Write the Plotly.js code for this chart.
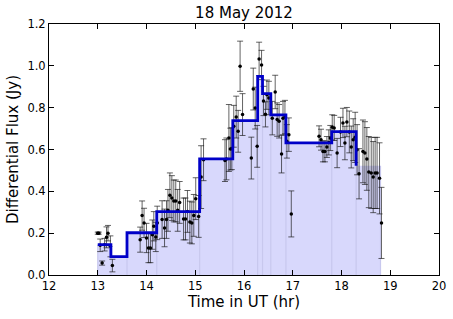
<!DOCTYPE html>
<html><head><meta charset="utf-8">
<script src="https://cdn.plot.ly/plotly-3.0.1.min.js"></script>
<style>html,body{margin:0;padding:0;background:#fff;}#chart{width:453px;height:319px;}</style>
</head><body><div id="chart"></div>
<script>
// Bayesian-block step edges and heights
var blockEdges = [13.0, 13.27, 13.6, 14.21, 15.09, 15.77, 16.28, 16.38, 16.55, 16.86, 17.8, 18.3, 18.8];
var blockValues = [0.145, 0.088, 0.202, 0.303, 0.555, 0.738, 0.95, 0.867, 0.766, 0.632, 0.685, 0.522];

// Measured points
var timeUT = [13.0, 13.02, 13.05, 13.09, 13.14, 13.18, 13.21, 13.26, 13.30,
  13.87, 13.91, 13.95, 14.0, 14.04, 14.08, 14.12, 14.15, 14.19, 14.22,
  14.32, 14.37, 14.41, 14.44, 14.48, 14.52, 14.56, 14.60, 14.64, 14.68, 14.76, 14.80, 14.84, 14.89, 14.93, 14.97, 15.01, 15.07, 15.12, 15.17,
  15.61, 15.64, 15.69, 15.72, 15.75, 15.79, 15.84, 15.88, 15.92, 15.97, 16.15, 16.19, 16.23, 16.27,
  16.31, 16.36, 16.40, 16.44, 16.47, 16.51, 16.58, 16.64, 16.68, 16.72, 16.77, 16.80, 16.84, 16.88, 16.92, 16.97,
  17.54, 17.58, 17.62, 17.66, 17.70, 17.74, 17.77, 17.81, 17.85, 17.91, 17.98, 18.03, 18.07, 18.11, 18.16, 18.20, 18.24, 18.28,
  18.32, 18.36, 18.44, 18.48, 18.52, 18.56, 18.61, 18.65, 18.69, 18.73, 18.78, 18.82];
var flux = [0.20, 0.20, 0.142, 0.057, 0.145, 0.18, 0.20, 0.137, 0.045,
  0.169, 0.284, 0.249, 0.177, 0.129, 0.129, 0.193, 0.233, 0.182, 0.249,
  0.265, 0.225, 0.265, 0.309, 0.381, 0.368, 0.354, 0.354, 0.309, 0.347, 0.268, 0.268, 0.304, 0.253, 0.249, 0.285, 0.365, 0.28, 0.468, 0.551,
  0.547, 0.555, 0.655, 0.602, 0.604, 0.711, 0.755, 0.687, 0.998, 0.767, 0.559, 0.889, 0.798, 0.615,
  1.033, 1.004, 0.832, 0.768, 0.862, 0.846, 0.75, 0.875, 0.743, 0.735, 0.578, 0.75, 0.755, 0.639, 0.671, 0.292,
  0.663, 0.647, 0.591, 0.591, 0.612, 0.634, 0.655, 0.706, 0.703, 0.583, 0.684, 0.727, 0.631, 0.731, 0.684, 0.612, 0.647, 0.658,
  0.599, 0.484, 0.591, 0.583, 0.555, 0.492, 0.488, 0.468, 0.488, 0.488, 0.462, 0.249];
var fluxErr = [0.005, 0.005, 0.03, 0.01, 0.03, 0.05, 0.037, 0.05, 0.03,
  0.06, 0.07, 0.07, 0.07, 0.07, 0.07, 0.07, 0.07, 0.07, 0.08,
  0.09, 0.09, 0.09, 0.1, 0.107, 0.107, 0.1, 0.1, 0.1, 0.1, 0.1, 0.1, 0.1, 0.1, 0.1, 0.1, 0.1, 0.1, 0.15, 0.1,
  0.1, 0.1, 0.16, 0.1, 0.1, 0.1, 0.1, 0.1, 0.12, 0.1, 0.1, 0.1, 0.1, 0.1,
  0.08, 0.07, 0.07, 0.06, 0.07, 0.08, 0.08, 0.08, 0.08, 0.08, 0.09, 0.08, 0.08, 0.08, 0.08, 0.11,
  0.05, 0.05, 0.05, 0.05, 0.05, 0.06, 0.06, 0.06, 0.06, 0.07, 0.07, 0.07, 0.08, 0.07, 0.1, 0.1, 0.1, 0.12,
  0.12, 0.12, 0.15, 0.15, 0.15, 0.17, 0.17, 0.17, 0.17, 0.17, 0.17, 0.17];

var fillX = blockEdges.slice();
var fillY = blockValues.concat([blockValues[blockValues.length - 1]]);
var lineX = blockEdges.slice(0, blockEdges.length - 1);
var lineY = blockValues.slice();

// faint vertical edges where adjacent blocks meet
var edgeX = [], edgeY = [];
for (var i = 0; i < blockEdges.length; i++) {
  var left = i > 0 ? blockValues[i - 1] : 0;
  var right = i < blockValues.length ? blockValues[i] : 0;
  edgeX.push(blockEdges[i], blockEdges[i], null);
  edgeY.push(0, Math.max(left, right), null);
}

var traces = [
  {x: fillX, y: fillY, type: 'scatter', mode: 'lines', line: {shape: 'hv', width: 0, color: 'rgba(0,0,0,0)'},
   fill: 'tozeroy', fillcolor: 'rgb(216,216,252)', hoverinfo: 'skip'},
  {x: edgeX, y: edgeY, type: 'scatter', mode: 'lines', line: {width: 1.2, color: 'rgb(200,200,238)'}, hoverinfo: 'skip'},
  {x: timeUT, y: flux, type: 'scatter', mode: 'markers',
   marker: {color: '#000', size: 3.5, symbol: 'circle'},
   error_y: {type: 'data', array: fluxErr, visible: true, color: 'rgba(25,25,25,0.85)', thickness: 0.8, width: 3}},
  {x: lineX, y: lineY, type: 'scatter', mode: 'lines', line: {shape: 'hv', width: 2.8, color: '#0000c8'}}
];

var axisCommon = {showline: true, linecolor: '#000', linewidth: 1, mirror: 'ticks', ticks: 'inside', ticklen: 5,
  tickcolor: '#000', showgrid: false, zeroline: false, tickfont: {family: 'DejaVu Sans', size: 11.5, color: '#000'}};

var layout = {
  width: 453, height: 319,
  margin: {l: 49, r: 14, t: 24, b: 44},
  paper_bgcolor: '#fff', plot_bgcolor: '#fff',
  showlegend: false,
  title: {text: '18 May 2012', font: {family: 'DejaVu Sans', size: 15, color: '#000'}, x: 0.5, xref: 'paper', xanchor: 'center', y: 0.959, yanchor: 'middle'},
  xaxis: Object.assign({}, axisCommon, {range: [12, 20], dtick: 1, tick0: 12,
    title: {text: 'Time in UT (hr)', font: {family: 'DejaVu Sans', size: 15, color: '#000'}, standoff: 3}}),
  yaxis: Object.assign({}, axisCommon, {range: [0, 1.2], dtick: 0.2, tick0: 0, tickformat: '.1f',
    title: {text: 'Differential Flux (Jy)', font: {family: 'DejaVu Sans', size: 15, color: '#000'}, standoff: 5}})
};

Plotly.newPlot('chart', traces, layout, {displayModeBar: false, staticPlot: true});
</script>
</body></html>
